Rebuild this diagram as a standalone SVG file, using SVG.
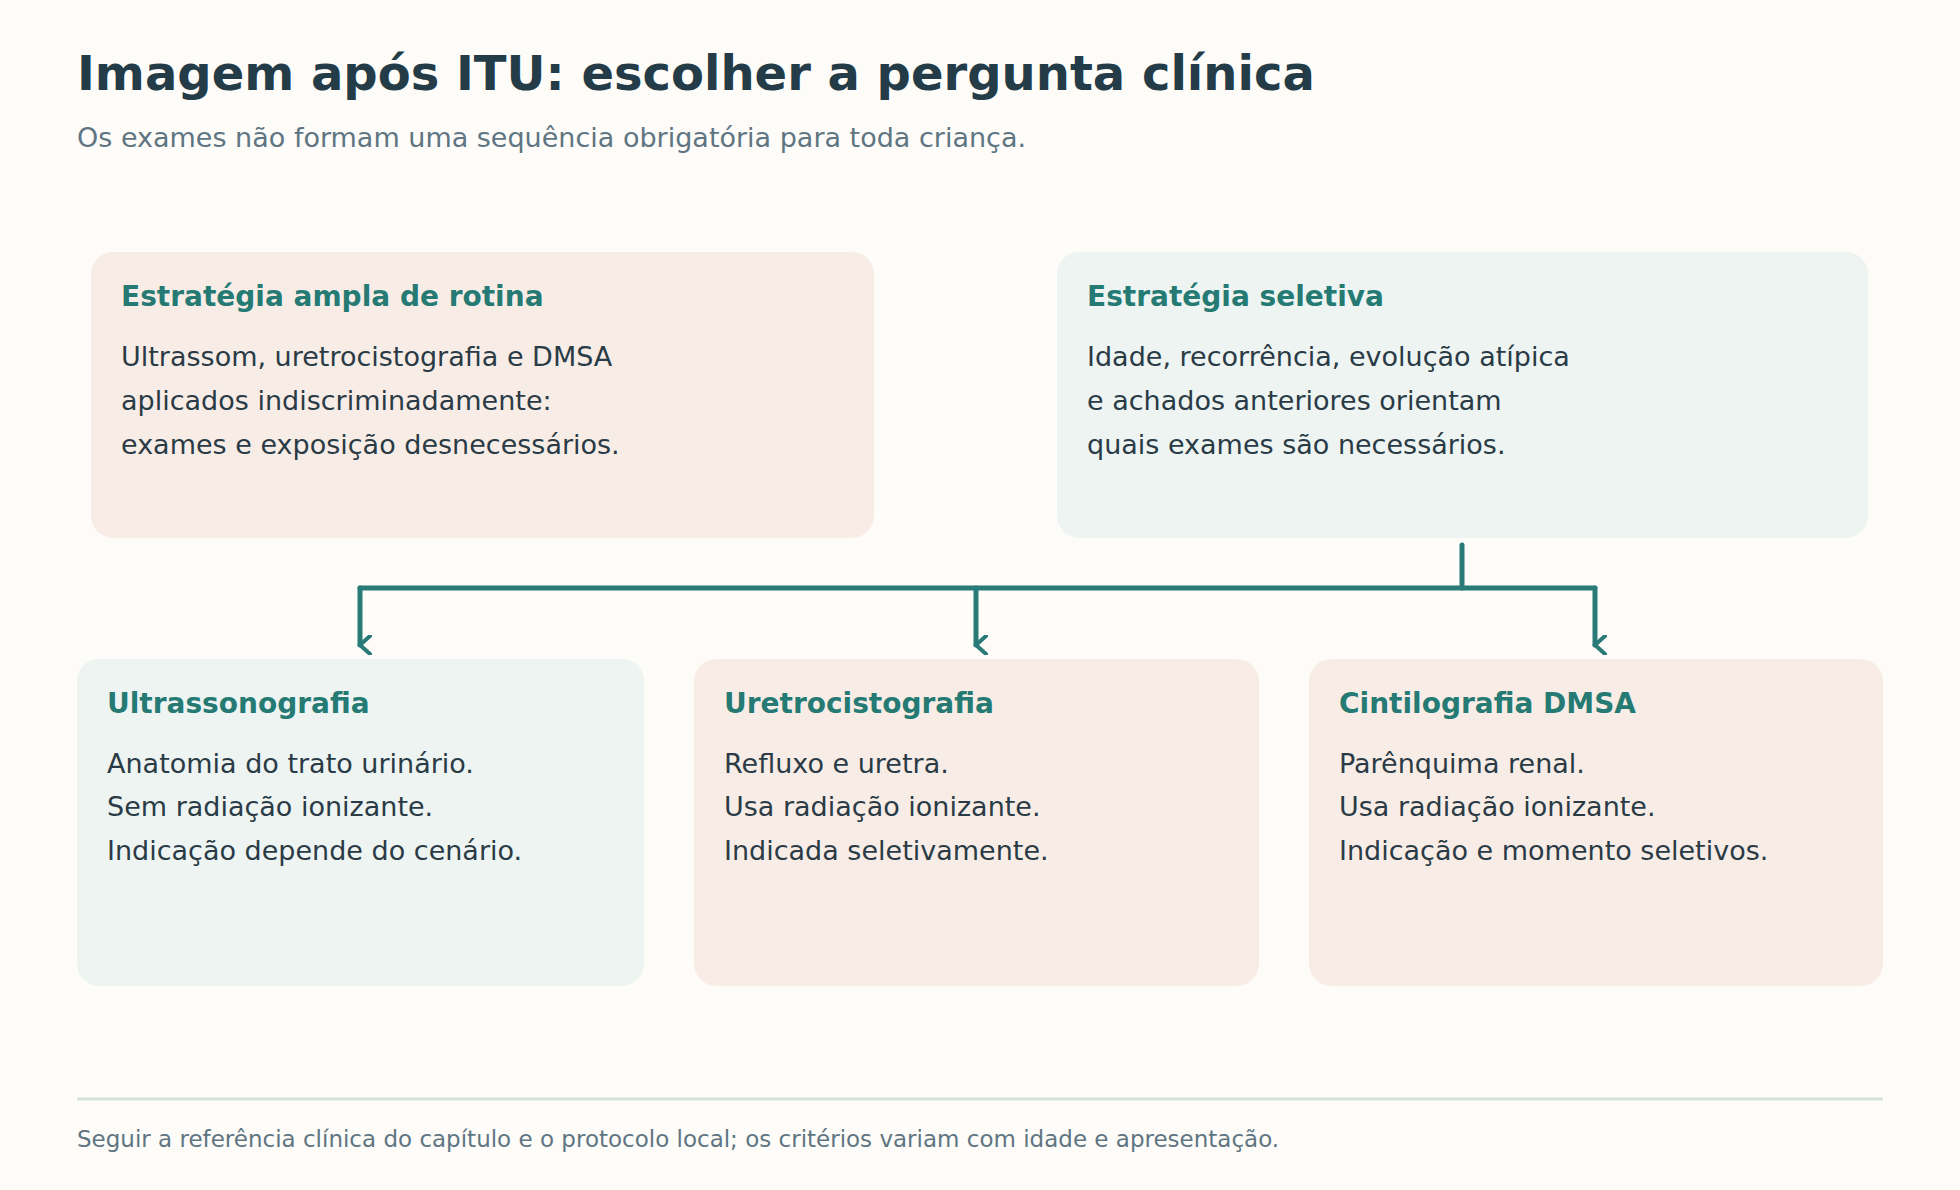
<svg xmlns="http://www.w3.org/2000/svg" width="1960" height="1190" viewBox="0 0 1960 1190">
<style>
text{font-family:"DejaVu Sans",sans-serif}
.t{font-size:28px;font-weight:bold;fill:#257a74}
.b{font-size:27px;fill:#2a3b46}
.p{fill:#f8ede6}.g{fill:#edf4f2}
.c{stroke:#2a7b78;stroke-width:5;fill:none;stroke-linecap:round;stroke-linejoin:round}
</style>
<defs><marker id="a" viewBox="0 0 20 20" refX="10" refY="16" markerWidth="20" markerHeight="20" markerUnits="userSpaceOnUse" orient="auto-start-reverse"><path d="M1 6 L10 16 L19 6" fill="none" stroke="#2a7b78" stroke-width="4" stroke-linecap="round"/></marker></defs>
<rect width="1960" height="1190" fill="#fdfcf9"/>
<text x="77" y="90" font-size="48" font-weight="bold" fill="#243b48">Imagem após ITU: escolher a pergunta clínica</text>
<text x="77" y="147" font-size="27" fill="#5f7582">Os exames não formam uma sequência obrigatória para toda criança.</text>
<g id="ampla"><rect class="p" x="91" y="252" width="783" height="286" rx="22"/>
<text class="t" x="121" y="306" font-size="34">Estratégia ampla de rotina</text>
<text class="b" x="121" y="366">Ultrassom, uretrocistografia e DMSA</text>
<text class="b" x="121" y="410">aplicados indiscriminadamente:</text>
<text class="b" x="121" y="454">exames e exposição desnecessários.</text></g>
<g id="seletiva"><rect class="g" x="1057" y="252" width="811" height="286" rx="22"/>
<text class="t" x="1087" y="306">Estratégia seletiva</text>
<text class="b" x="1087" y="366">Idade, recorrência, evolução atípica</text>
<text class="b" x="1087" y="410">e achados anteriores orientam</text>
<text class="b" x="1087" y="454">quais exames são necessários.</text></g>
<g id="us"><rect class="g" x="77" y="659" width="567" height="327" rx="22"/>
<text class="t" x="107" y="713">Ultrassonografia</text>
<text class="b" x="107" y="773">Anatomia do trato urinário.</text>
<text class="b" x="107" y="816">Sem radiação ionizante.</text>
<text class="b" x="107" y="860">Indicação depende do cenário.</text></g>
<g id="ucg"><rect class="p" x="694" y="659" width="565" height="327" rx="22"/>
<text class="t" x="724" y="713">Uretrocistografia</text>
<text class="b" x="724" y="773">Refluxo e uretra.</text>
<text class="b" x="724" y="816">Usa radiação ionizante.</text>
<text class="b" x="724" y="860">Indicada seletivamente.</text></g>
<g id="dmsa"><rect class="p" x="1309" y="659" width="574" height="327" rx="22"/>
<text class="t" x="1339" y="713">Cintilografia DMSA</text>
<text class="b" x="1339" y="773">Parênquima renal.</text>
<text class="b" x="1339" y="816">Usa radiação ionizante.</text>
<text class="b" x="1339" y="860">Indicação e momento seletivos.</text></g>
<g id="connectors">
<path class="c" d="M1462 545 V588"/>
<path class="c" d="M360 588 H1595"/>
<path class="c" d="M360 588 V645" marker-end="url(#a)"/>
<path class="c" d="M976 588 V645" marker-end="url(#a)"/>
<path class="c" d="M1595 588 V645" marker-end="url(#a)"/>
</g>
<line x1="77" y1="1099" x2="1883" y2="1099" stroke="#d3e0dc" stroke-width="3"/>
<text x="77" y="1147" font-size="23" fill="#5f7582">Seguir a referência clínica do capítulo e o protocolo local; os critérios variam com idade e apresentação.</text>
</svg>
